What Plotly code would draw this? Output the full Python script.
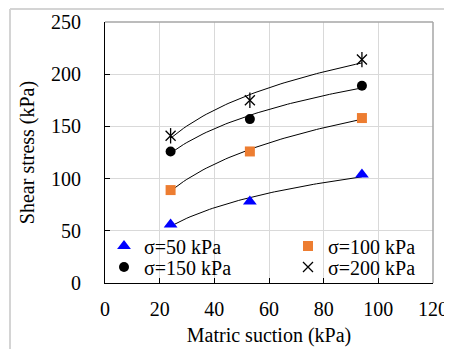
import numpy as np
import plotly.graph_objects as go

suction = [24, 53, 94]
tau_50 = [56, 78, 104]
tau_100 = [89, 126, 158]
tau_150 = [126, 157, 189]
tau_200 = [141, 175, 214]
names = ["σ=50 kPa", "σ=100 kPa", "σ=150 kPa", "σ=200 kPa"]
x_ticks = [0, 20, 40, 60, 80, 100, 120]
y_ticks = [0, 50, 100, 150, 200, 250]

FONT = "Liberation Serif"

fig = go.Figure()

# logarithmic trendlines fitted to each series
xs = np.linspace(min(suction), max(suction), 60)
for ys in [tau_50, tau_100, tau_150, tau_200]:
    a, b = np.polyfit(np.log(suction), ys, 1)
    fig.add_trace(go.Scatter(x=xs, y=a * np.log(xs) + b, mode="lines",
                             line=dict(color="black", width=1), showlegend=False,
                             hoverinfo="skip"))

fig.add_trace(go.Scatter(x=suction, y=tau_50, mode="markers", name=names[0], legend="legend",
                         marker=dict(symbol="triangle-up", size=12, color="#0000FF")))
fig.add_trace(go.Scatter(x=suction, y=tau_100, mode="markers", name=names[1], legend="legend2",
                         marker=dict(symbol="square", size=10, color="#ED7D31")))
fig.add_trace(go.Scatter(x=suction, y=tau_150, mode="markers", name=names[2], legend="legend3",
                         marker=dict(symbol="circle", size=10, color="black")))
fig.add_trace(go.Scatter(x=suction, y=tau_200, mode="markers", name=names[3], legend="legend4",
                         marker=dict(symbol="x-thin-open", size=10, color="black",
                                     line=dict(color="black", width=1.3))))
fig.add_trace(go.Scatter(x=suction, y=tau_200, mode="markers", showlegend=False,
                         marker=dict(symbol="line-ns-open", size=11, color="black",
                                     line=dict(color="black", width=1.3))))

# figure is placed 8px into the page (body margin)
W, H = 444, 341
L, T = 97, 14
R = W - 425
B = H - 275
pw, ph = W - L - R, H - T - B

def fx(page_x):
    return (page_x - 8 - L) / pw

def fy(page_y):
    return (H - B - (page_y - 8)) / ph

shapes = [
    dict(type="line", xref="paper", yref="paper", x0=0, x1=1, y0=1, y1=1,
         line=dict(color="#a6a6a6", width=1.5)),
    dict(type="line", xref="paper", yref="paper", x0=1, x1=1, y0=0, y1=1,
         line=dict(color="#a6a6a6", width=1.5)),
    dict(type="line", xref="paper", yref="paper", x0=fx(10), x1=fx(460), y0=fy(9), y1=fy(9),
         line=dict(color="#d4d4d4", width=2)),
    dict(type="line", xref="paper", yref="paper", x0=fx(10), x1=fx(10), y0=fy(9), y1=fy(360),
         line=dict(color="#d4d4d4", width=2)),
]

def leg(page_left, page_cy):
    return dict(orientation="h", x=fx(page_left), xanchor="left", y=fy(page_cy),
                yanchor="middle", bgcolor="rgba(0,0,0,0)",
                font=dict(family=FONT, size=20, color="black"), itemwidth=30)

fig.update_layout(
    width=W, height=H,
    margin=dict(l=L, r=R, t=T, b=B, autoexpand=False),
    paper_bgcolor="white", plot_bgcolor="white",
    font=dict(family=FONT, size=20, color="black"),
    shapes=shapes,
    legend=leg(104, 246),
    legend2=leg(288, 246),
    legend3=leg(104, 267),
    legend4=leg(288, 267),
    xaxis=dict(range=[0, 120], tickvals=x_ticks, ticktext=[str(v) for v in x_ticks],
               showgrid=True, gridcolor="#d9d9d9", gridwidth=1,
               showline=True, linecolor="black", linewidth=1.2,
               ticks="inside", ticklen=5, tickcolor="black",
               zeroline=False, ticklabelstandoff=8,
               title=dict(text="Matric suction (kPa)", standoff=8,
                          font=dict(family=FONT, size=20))),
    yaxis=dict(range=[0, 250], tickvals=y_ticks, ticktext=[str(v) for v in y_ticks],
               showgrid=True, gridcolor="#d9d9d9", gridwidth=1,
               showline=True, linecolor="black", linewidth=1.2,
               ticks="inside", ticklen=5, tickcolor="black",
               zeroline=False, ticklabelstandoff=19,
               title=dict(text="Shear stress (kPa)", standoff=10,
                          font=dict(family=FONT, size=20))),
)

fig.write_html("out.html")
